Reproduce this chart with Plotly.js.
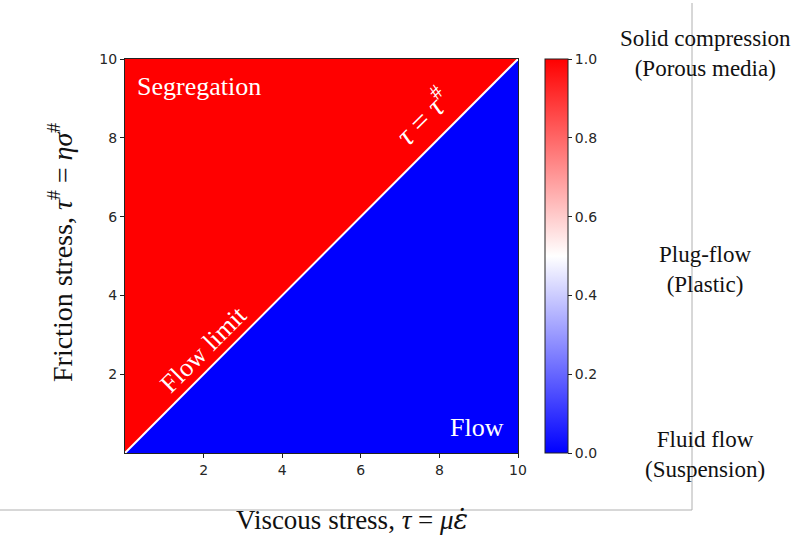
<!DOCTYPE html>
<html>
<head>
<meta charset="utf-8">
<script src="https://cdn.plot.ly/plotly-3.0.1.min.js"></script>
<style>html,body{margin:0;padding:0;background:#fff;}#chart{width:795px;height:535px;}</style>
</head>
<body>
<div id="chart"></div>
<script>
// Data
const axisTicks = [2, 4, 6, 8, 10];
const segregationX = [0, 0, 10, 0];   // region tau# > tau (value 1)
const segregationY = [0, 10, 10, 0];
const flowX = [0, 10, 10, 0];         // region tau > tau# (value 0)
const flowY = [0, 0, 10, 0];
const flowLimitX = [0, 10];           // tau = tau#
const flowLimitY = [0, 10];
const regionValues = [1, 0];
const colorbarTicks = [0, 0.2, 0.4, 0.6, 0.8, 1.0];
const colorbarTickText = ["0.0", "0.2", "0.4", "0.6", "0.8", "1.0"];
const regimeLabels = ["Solid compression<br>(Porous media)", "Plug-flow<br>(Plastic)", "Fluid flow<br>(Suspension)"];

const bwr = [[0, 'rgb(0,0,255)'], [0.5, 'rgb(255,255,255)'], [1, 'rgb(255,0,0)']];
const serif = '"Liberation Serif", "DejaVu Serif", serif';
const tickFont = {family: '"DejaVu Sans", sans-serif', size: 14, color: '#262626'};

const traces = [
  {x: segregationX, y: segregationY, type: 'scatter', mode: 'lines', fill: 'toself',
   fillcolor: 'rgb(255,0,0)', line: {width: 0, color: 'rgb(255,0,0)'}, hoverinfo: 'skip', showlegend: false},
  {x: flowX, y: flowY, type: 'scatter', mode: 'lines', fill: 'toself',
   fillcolor: 'rgb(0,0,255)', line: {width: 0, color: 'rgb(0,0,255)'}, hoverinfo: 'skip', showlegend: false},
  {x: flowLimitX, y: flowLimitY, type: 'scatter', mode: 'lines',
   line: {width: 2, color: '#ffffff'}, hoverinfo: 'skip', showlegend: false},
  {x: [5, 5], y: [5, 5], type: 'scatter', mode: 'markers', showlegend: false, hoverinfo: 'skip',
   marker: {size: 0.1, opacity: 0, color: regionValues, colorscale: bwr, cmin: 0, cmax: 1, showscale: true,
     colorbar: {x: (545 - 125) / 393, xanchor: 'left', xpad: 0, y: 0.5, yanchor: 'middle', ypad: 0,
       len: 1, lenmode: 'fraction', thickness: 23, thicknessmode: 'pixels',
       outlinewidth: 1, outlinecolor: '#222',
       tickmode: 'array', tickvals: colorbarTicks, ticktext: colorbarTickText,
       ticks: 'outside', ticklen: 4, tickcolor: '#222', tickwidth: 1,
       tickfont: tickFont}}}
];

const layout = {
  width: 795, height: 535,
  margin: {l: 125, r: 277, t: 59, b: 82},
  paper_bgcolor: '#ffffff', plot_bgcolor: '#ffffff',
  showlegend: false,
  xaxis: {range: [0, 10], tickmode: 'array', tickvals: axisTicks, showgrid: false, zeroline: false,
    showline: true, mirror: true, linecolor: '#222', linewidth: 1,
    ticks: 'outside', ticklen: 4, tickcolor: '#222',
    tickfont: tickFont, fixedrange: true},
  yaxis: {range: [0, 10], tickmode: 'array', tickvals: axisTicks, showgrid: false, zeroline: false,
    showline: true, mirror: true, linecolor: '#222', linewidth: 1,
    ticks: 'outside', ticklen: 4, tickcolor: '#222',
    tickfont: tickFont, fixedrange: true},
  annotations: [
    {text: 'Segregation', x: 0.25, y: 9.3, xref: 'x', yref: 'y', xanchor: 'left', yanchor: 'middle',
     showarrow: false, font: {family: serif, size: 26, color: '#ffffff'}},
    {text: 'Flow', x: 9.7, y: 0.65, xref: 'x', yref: 'y', xanchor: 'right', yanchor: 'middle',
     showarrow: false, font: {family: serif, size: 26, color: '#ffffff'}},
    {text: 'Flow limit', x: 2.0, y: 2.62, xref: 'x', yref: 'y', textangle: -45,
     showarrow: false, font: {family: serif, size: 26, color: '#ffffff'}},
    {text: '<i>τ</i> = <i>τ</i><sup>#</sup>', x: 7.55, y: 8.55, xref: 'x', yref: 'y', textangle: -45,
     showarrow: false, font: {family: serif, size: 30, color: '#ffffff'}},
    {text: 'Viscous stress, <i>τ</i> = <i>μ</i><span style="font-family:DejaVu Serif"><i>ε̇</i></span>', x: (352 - 125) / 393, y: (453 - 519) / 394,
     xref: 'paper', yref: 'paper', xanchor: 'center', yanchor: 'middle', showarrow: false,
     font: {family: serif, size: 27, color: '#111'}},
    {text: 'Friction stress, <i>τ</i><sup>#</sup> = <i>η</i><i>σ</i><sup>#</sup>', x: (60 - 125) / 393, y: (453 - 253) / 394,
     xref: 'paper', yref: 'paper', xanchor: 'center', yanchor: 'middle', textangle: -90, showarrow: false,
     font: {family: serif, size: 28, color: '#111'}},
    {text: regimeLabels[0], x: (705 - 125) / 393, y: (453 - 54) / 394, xref: 'paper', yref: 'paper',
     xanchor: 'center', yanchor: 'middle', showarrow: false, align: 'center',
     font: {family: serif, size: 23, color: '#111'}},
    {text: regimeLabels[1], x: (705 - 125) / 393, y: (453 - 269) / 394, xref: 'paper', yref: 'paper',
     xanchor: 'center', yanchor: 'middle', showarrow: false, align: 'center',
     font: {family: serif, size: 23, color: '#111'}},
    {text: regimeLabels[2], x: (705 - 125) / 393, y: (453 - 454) / 394, xref: 'paper', yref: 'paper',
     xanchor: 'center', yanchor: 'middle', showarrow: false, align: 'center',
     font: {family: serif, size: 23, color: '#111'}}
  ],
  shapes: [
    {type: 'line', xref: 'paper', yref: 'paper', x0: (692 - 125) / 393, x1: (692 - 125) / 393,
     y0: (453 - 3) / 394, y1: (453 - 510) / 394, line: {color: '#b0b0b0', width: 1}},
    {type: 'line', xref: 'paper', yref: 'paper', x0: (0 - 125) / 393, x1: (692 - 125) / 393,
     y0: (453 - 510) / 394, y1: (453 - 510) / 394, line: {color: '#b0b0b0', width: 1}}
  ]
};

Plotly.newPlot('chart', traces, layout, {displayModeBar: false, staticPlot: true});
</script>
</body>
</html>
